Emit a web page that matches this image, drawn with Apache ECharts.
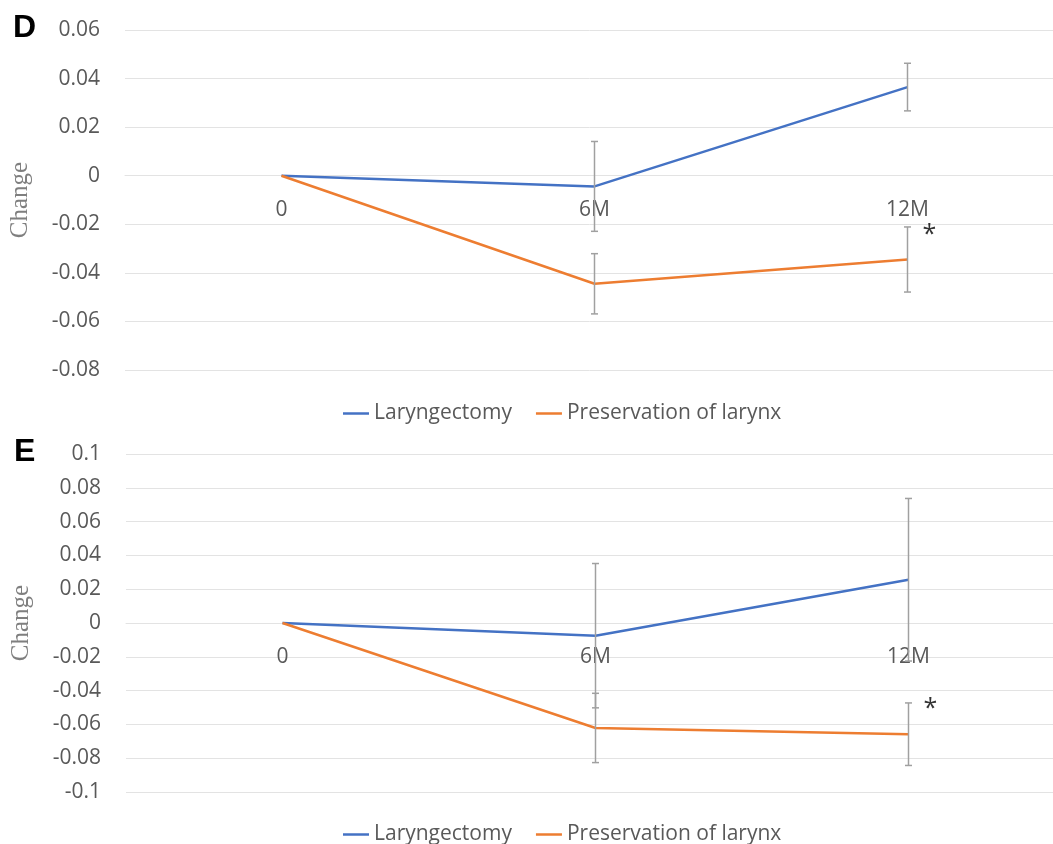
<!DOCTYPE html>
<html>
<head>
<meta charset="utf-8">
<script src="https://cdn.jsdelivr.net/npm/echarts@6/dist/echarts.min.js"></script>
<style>
  html, body { margin: 0; padding: 0; background: #fff; }
  #chart { width: 1053px; height: 844px; }
</style>
</head>
<body>
<div id="chart"></div>
<script>
// Time points
const categories = ['0', '6M', '12M'];
const seriesNames = ['Laryngectomy', 'Preservation of larynx'];

// Panel D: mean change and error half-widths
const laryD = [0, -0.0044, 0.0365];
const laryDErr = [0, 0.0185, 0.0098];
const presD = [0, -0.0445, -0.0345];
const presDErr = [0, 0.0124, 0.0134];

// Panel E: mean change and error half-widths
const laryE = [0, -0.0075, 0.0256];
const laryEErr = [0, 0.0427, 0.0481];
const presE = [0, -0.0621, -0.0658];
const presEErr = [0, 0.0205, 0.0185];

// Axis ranges
const yRangeD = { min: -0.08, max: 0.06, interval: 0.02 };
const yRangeE = { min: -0.1, max: 0.1, interval: 0.02 };

// Significance mark at 12M for the larynx-preservation group
const starIndex = 2;

const BLUE = '#4472C4';
const ORANGE = '#ED7D31';
const GREY_TEXT = '#595959';
const GRID_LINE = '#e3e3e3';
const ERR_COLOR = '#a0a0a0';
const SANS = '"Open Sans", "Noto Sans", sans-serif';
const SERIF = '"Liberation Serif", "DejaVu Serif", serif';

// Plot boxes
const gridD = { left: 125, width: 939, top: 30, height: 340 };
const gridE = { left: 126, width: 939, top: 454, height: 338 };

function errData(vals, errs) {
  return vals.map((v, i) => [i, v, errs[i]]);
}

function renderErr(params, api) {
  const e = api.value(2);
  if (!e) return null;
  const x = api.value(0), v = api.value(1);
  const top = api.coord([x, v + e]);
  const bot = api.coord([x, v - e]);
  const cap = 3.5;
  const style = { stroke: ERR_COLOR, lineWidth: 1.5 };
  return {
    type: 'group',
    children: [
      { type: 'line', shape: { x1: top[0], y1: top[1], x2: bot[0], y2: bot[1] }, style },
      { type: 'line', shape: { x1: top[0] - cap, y1: top[1], x2: top[0] + cap, y2: top[1] }, style },
      { type: 'line', shape: { x1: bot[0] - cap, y1: bot[1], x2: bot[0] + cap, y2: bot[1] }, style }
    ]
  };
}

function yAxisCfg(range, gridIndex) {
  return {
    type: 'value', gridIndex,
    min: range.min, max: range.max, interval: range.interval,
    name: 'Change', nameLocation: 'middle', nameRotate: 90, nameGap: 92,
    nameTextStyle: { fontFamily: SERIF, fontSize: 25, color: '#7f7f7f' },
    axisLine: { show: false }, axisTick: { show: false },
    axisLabel: {
      margin: 25, fontFamily: SANS, fontSize: 21, color: GREY_TEXT,
      formatter: v => String(+v.toFixed(2))
    },
    splitLine: { lineStyle: { color: GRID_LINE, width: 1 } }
  };
}

// Category axis drawn through the zero line of its value axis
function xAxisCfg(gridIndex, grid, range) {
  const zeroFromBottom = grid.height * (0 - range.min) / (range.max - range.min);
  return {
    type: 'category', gridIndex, data: categories, boundaryGap: true,
    position: 'bottom', offset: -zeroFromBottom,
    axisLine: { onZero: false, lineStyle: { color: GRID_LINE, width: 1 } },
    axisTick: { show: false },
    axisLabel: { margin: 24, fontFamily: SANS, fontSize: 21, color: GREY_TEXT }
  };
}

function lineSeries(name, color, data, idx) {
  return {
    name, type: 'line', xAxisIndex: idx, yAxisIndex: idx, data,
    symbol: 'none', z: 3,
    lineStyle: { color, width: 2.5 }, itemStyle: { color }
  };
}

function errSeries(vals, errs, idx) {
  return {
    type: 'custom', xAxisIndex: idx, yAxisIndex: idx,
    data: errData(vals, errs), renderItem: renderErr, z: 4,
    encode: { x: 0, y: 1 }, silent: true
  };
}

function starSeries(vals, errs, idx, offset) {
  return {
    type: 'scatter', xAxisIndex: idx, yAxisIndex: idx, symbolSize: 0,
    data: [[starIndex, vals[starIndex] + errs[starIndex]]], silent: true, z: 5,
    label: {
      show: true, formatter: '*', position: 'inside', offset,
      fontFamily: SANS, fontSize: 25, color: '#000'
    }
  };
}

function legendCfg(top) {
  return {
    data: seriesNames, left: 338, top, icon: 'rect',
    itemWidth: 26, itemHeight: 2.5, itemGap: 24,
    textStyle: { fontFamily: SANS, fontSize: 21, color: GREY_TEXT }
  };
}

const chart = echarts.init(document.getElementById('chart'), null, { renderer: 'canvas' });

chart.setOption({
  animation: false,
  backgroundColor: '#fff',
  grid: [
    Object.assign({ outerBoundsMode: 'none', containLabel: false }, gridD),
    Object.assign({ outerBoundsMode: 'none', containLabel: false }, gridE)
  ],
  xAxis: [xAxisCfg(0, gridD, yRangeD), xAxisCfg(1, gridE, yRangeE)],
  yAxis: [yAxisCfg(yRangeD, 0), yAxisCfg(yRangeE, 1)],
  legend: [legendCfg(398), legendCfg(819)],
  graphic: [
    { type: 'text', left: 13, top: 12,
      style: { text: 'D', font: 'bold 32px "Liberation Sans", Arial, sans-serif', fill: '#000' } },
    { type: 'text', left: 14, top: 436,
      style: { text: 'E', font: 'bold 32px "Liberation Sans", Arial, sans-serif', fill: '#000' } }
  ],
  series: [
    lineSeries(seriesNames[0], BLUE, laryD, 0),
    lineSeries(seriesNames[1], ORANGE, presD, 0),
    errSeries(laryD, laryDErr, 0),
    errSeries(presD, presDErr, 0),
    starSeries(presD, presDErr, 0, [22, 8]),
    lineSeries(seriesNames[0], BLUE, laryE, 1),
    lineSeries(seriesNames[1], ORANGE, presE, 1),
    errSeries(laryE, laryEErr, 1),
    errSeries(presE, presEErr, 1),
    starSeries(presE, presEErr, 1, [22, 6])
  ]
});
</script>
</body>
</html>
